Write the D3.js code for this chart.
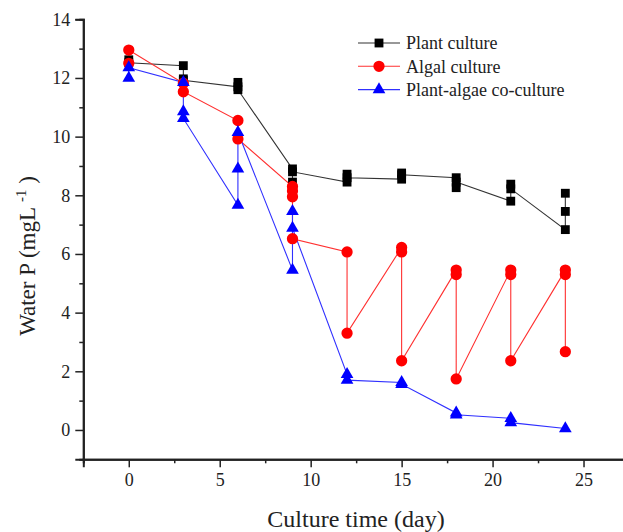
<!DOCTYPE html>
<html>
<head>
<meta charset="utf-8">
<script src="https://cdn.jsdelivr.net/npm/d3@7"></script>
<style>
  body { margin: 0; background: #fff; }
  text { font-family: "Liberation Serif", "Times New Roman", serif; }
</style>
</head>
<body>
<div id="graph"></div>
<script>
// sampling days
var days = [0, 3, 6, 9, 12, 15, 18, 21, 24]

// replicate values per day, in the order the line passes through them
var plantP = [[12.62, 12.52], [12.42, 11.97, 11.92], [11.7, 11.85, 11.6], [8.9, 8.45, 8.8],
  [8.45, 8.72, 8.6], [8.55, 8.76, 8.7], [8.6, 8.26, 8.45], [7.8, 8.38, 8.22], [6.83, 7.45, 8.07]]
var algalP = [[12.5, 12.95], [11.82, 11.53], [10.55, 9.92], [8.3, 8.15, 7.95, 6.52],
  [6.07, 3.3], [6.22, 6.07, 2.36], [5.45, 5.3, 1.74], [5.45, 5.3, 2.36], [5.45, 5.3, 2.67]]
var coP = [[12.0, 12.35], [11.85, 10.85, 10.62], [7.67, 8.9, 10.15], [5.45, 7.45, 6.88],
  [1.9, 1.7], [1.62, 1.56], [0.58, 0.52], [0.4, 0.25], [0.05]]

var seriesNames = ["Plant culture", "Algal culture", "Plant-algae co-culture"]
var xTicks = [0, 5, 10, 15, 20, 25]
var yTicks = [0, 2, 4, 6, 8, 10, 12, 14]

var W = 623, H = 532
var FONT = "'Liberation Serif', 'Times New Roman', serif"

var svg = d3.select("#graph")
  .append("svg")
  .attr("width", W)
  .attr("height", H)

var x = d3.scaleLinear().domain([-2.5, 27.5]).range([83.3, 629])
var y = d3.scaleLinear().domain([-1, 14]).range([459.3, 19.3])

// axes: major + minor ticks
var xMinor = d3.range(-2.5, 28, 2.5).filter(function(v){ return xTicks.indexOf(v) < 0 })
var yMinor = d3.range(-1, 14, 2)

var gx = svg.append("g").attr("transform", "translate(0," + y(-1) + ")")
gx.call(d3.axisBottom(x).tickValues(xTicks).tickSize(8).tickPadding(6).tickFormat(d3.format("d")))
gx.append("g").call(d3.axisBottom(x).tickValues(xMinor).tickSize(4).tickFormat(""))

var gy = svg.append("g").attr("transform", "translate(" + x(-2.5) + ",0)")
gy.call(d3.axisLeft(y).tickValues(yTicks).tickSize(8).tickPadding(5).tickFormat(d3.format("d")))
gy.append("g").call(d3.axisLeft(y).tickValues(yMinor).tickSize(4).tickFormat(""))

gx.attr("font-family", FONT).attr("font-size", 18)
gy.attr("font-family", FONT).attr("font-size", 18)
svg.selectAll(".domain").attr("stroke", "#222").attr("stroke-width", 2)
svg.selectAll(".tick line").attr("stroke", "#222").attr("stroke-width", 1.5)
svg.selectAll(".tick text").attr("fill", "#222")

// axis titles
svg.append("text")
  .attr("x", 356)
  .attr("y", 527)
  .attr("text-anchor", "middle")
  .attr("font-family", FONT)
  .attr("font-size", 24)
  .attr("fill", "#222")
  .text("Culture time (day)")

var yt = svg.append("text")
  .attr("transform", "translate(35,256) rotate(-90)")
  .attr("text-anchor", "middle")
  .attr("font-family", FONT)
  .attr("font-size", 23)
  .attr("fill", "#222")
yt.append("tspan").text("Water P (mgL ")
yt.append("tspan").attr("dy", -9).attr("font-size", 15).text("-1")
yt.append("tspan").attr("dy", 9).text(" )")

// series
function toPoints(reps) {
  var pts = []
  days.forEach(function(d, i) {
    reps[i].forEach(function(v) { pts.push({ d: d, v: v }) })
  })
  return pts
}

var series = [
  { name: seriesNames[0], pts: toPoints(plantP), color: "#000", line: "#333", sym: d3.symbolSquare, size: 78 },
  { name: seriesNames[1], pts: toPoints(algalP), color: "#ff0000", line: "#ff3030", sym: d3.symbolCircle, size: 100 },
  { name: seriesNames[2], pts: toPoints(coP), color: "#0000ff", line: "#3030ff", sym: d3.symbolTriangle, size: 70 }
]

var line = d3.line()
  .x(function(p){ return x(p.d) })
  .y(function(p){ return y(p.v) })

series.forEach(function(s) {
  svg.append("path")
    .datum(s.pts)
    .attr("d", line)
    .attr("fill", "none")
    .attr("stroke", s.line)
    .attr("stroke-width", 1.1)
})

series.forEach(function(s) {
  svg.selectAll(null)
    .data(s.pts)
    .enter()
    .append("path")
      .attr("d", d3.symbol().type(s.sym).size(s.size))
      .attr("transform", function(p){ return "translate(" + x(p.d) + "," + y(p.v) + ")" })
      .attr("fill", s.color)
})

// legend
var legend = svg.append("g").attr("transform", "translate(358,43)")
series.forEach(function(s, i) {
  var g = legend.append("g").attr("transform", "translate(0," + (i * 23.3) + ")")
  g.append("line")
    .attr("x1", 0).attr("x2", 42)
    .attr("stroke", s.line)
    .attr("stroke-width", 1.1)
  g.append("path")
    .attr("d", d3.symbol().type(s.sym).size(s.size))
    .attr("transform", "translate(21,0)")
    .attr("fill", s.color)
  g.append("text")
    .attr("x", 48)
    .attr("dy", "0.35em")
    .attr("font-family", FONT)
    .attr("font-size", 18)
    .attr("fill", "#222")
    .text(s.name)
})
</script>
</body>
</html>
